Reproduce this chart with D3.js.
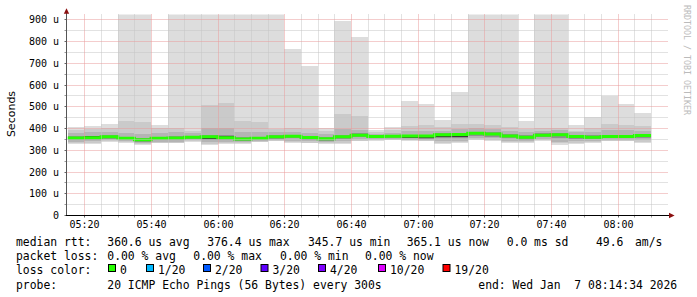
<!DOCTYPE html>
<html><head><meta charset="utf-8">
<script src="https://cdn.jsdelivr.net/npm/d3@7/dist/d3.min.js"></script>
<style>
html,body{margin:0;padding:0;background:#fff;}
svg{display:block;}
text{white-space:pre;}
</style></head><body>
<svg id="c" width="697" height="297"></svg>
<script>
// ---- data (5-minute bins, labelled by bin end time) ----
const binEnds = ["05:20","05:25","05:30","05:35","05:40","05:45","05:50","05:55","06:00","06:05",
  "06:10","06:15","06:20","06:25","06:30","06:35","06:40","06:45","06:50","06:55",
  "07:00","07:05","07:10","07:15","07:20","07:25","07:30","07:35","07:40","07:45",
  "07:50","07:55","08:00","08:05","08:10"];
// values in microseconds
const median = [354.2,355.5,359.3,352.5,345.7,352.5,354.2,357.6,359.3,355.1,350.0,352.5,360.2,361.9,355.9,350.8,359.3,367.0,361.1,361.9,
  362.8,362.8,368.7,370.4,376.4,372.1,363.6,357.6,367.0,368.7,361.1,357.6,361.1,361.1,365.1];
const ping20 = [405,410,419,990,990,414,990,990,990,990,990,990,990,764,687,400,894,820,393,404,
  524,511,437,566,990,990,990,434,990,990,414,449,549,511,471];
const ping19 = [392,396,400,432,426,399,399,385,505,515,434,428,396,399,396,385,465,456,381,390,
  411,414,403,420,419,414,405,394,400,400,388,400,419,412,409];
const ping17 = [376,380,381,378,372,378,380,376,398,402,380,382,381,384,378,372,395,392,372,377,
  385,388,388,395,398,394,388,380,388,390,380,381,392,390,388];
const ping14 = [362,365,366,361,354,360,363,365,368,366,359,361,368,370,364,359,370,375,367,369,
  370,370,376,378,384,380,372,366,375,376,369,366,369,370,373];
const ping11 = [357,364,362,355,348,355,357,360,362,362,353,355,363,365,358,353,362,370,363,364,
  365,365,371,373,379,375,366,360,370,371,363,363,363,363,367];
const ping10 = [351,353,356,349,341,349,351,354,351,353,346,349,357,358,353,347,356,364,356,358,
  355,356,358,360,373,368,360,354,364,366,358,354,358,358,362];
const ping07 = [346,347,350,344,336,343,345,349,344,346,340,345,351,352,346,341,349,357,352,354,
  352,351,352,353,365,361,353,347,358,356,351,348,352,352,355];
const ping04 = [338,339,344,339,330,337,338,343,334,338,334,341,345,341,339,335,339,348,348,350,
  347,346,340,342,355,352,342,340,350,338,340,340,346,346,344];
const ping02 = [331,332,339,335,325,333,333,339,326,331,330,338,341,336,333,330,331,342,344,347,
  344,342,331,334,348,345,334,336,345,329,331,334,341,342,337];
const ping01 = [327,327,336,333,321,330,330,336,321,327,327,336,339,333,330,327,327,339,342,345,
  342,339,327,330,345,342,330,333,342,324,327,330,339,339,333];

const yTickValues = [0,100,200,300,400,500,600,700,800,900];
const yTickLabels = ["0","100 u","200 u","300 u","400 u","500 u","600 u","700 u","800 u","900 u"];
const xTickLabels = ["05:20","05:40","06:00","06:20","06:40","07:00","07:20","07:40","08:00"];

const lossLabels = ["0","1/20","2/20","3/20","4/20","10/20","19/20"];
const lossColors = ["#26ff00","#00b8ff","#0059ff","#5e00ff","#7e00ff","#dd00ff","#ff0000"];

// ---- layout ----
const toMin = s => { const [h,m,sec] = s.split(":").map(Number); return h*60 + m + (sec||0)/60; };
const tStart = toMin("05:14:34"), tEnd = toMin("08:14:34");
const x = d3.scaleLinear().domain([tStart, tEnd]).range([66.3, 666.3]);
const y = d3.scaleLinear().domain([0, 900]).range([215, 19.3]);
const plotLeft = 66.5, plotRight = 668, plotTop = 14.5, plotBottom = 215;
const step = 5;

const svg = d3.select("#c");
svg.append("rect").attr("width",697).attr("height",297).attr("fill","#fff");
svg.append("defs").append("clipPath").attr("id","plot")
  .append("rect").attr("x",plotLeft).attr("y",plotTop)
  .attr("width",plotRight-plotLeft).attr("height",plotBottom-plotTop);

const g = svg.append("g").attr("clip-path","url(#plot)");

// smoke layers (outer to inner)
const layers = [
  [ping01, ping20, "#dddddd"],
  [ping02, ping19, "#cacaca"],
  [ping04, ping17, "#b4b4b4"],
  [ping07, ping14, "#909090"],
  [ping10, ping11, "#3a3a3a"]
];
layers.forEach(([lo, hi, col]) => {
  g.append("g").selectAll("rect").data(binEnds).join("rect")
    .attr("shape-rendering","crispEdges")
    .attr("x", (d) => Math.max(x(toMin(d)-step), plotLeft))
    .attr("width", (d) => x(toMin(d)) - Math.max(x(toMin(d)-step), plotLeft))
    .attr("y", (d,i) => y(hi[i]))
    .attr("height", (d,i) => y(lo[i]) - y(hi[i]))
    .attr("fill", col);
});

// grid
const grid = svg.append("g");
const hMinor = d3.range(50, 900, 100);
const hMajor = d3.range(100, 901, 100);
const vAll = d3.range(toMin("05:20"), toMin("08:10")+0.1, 5);
const isMajorT = m => Math.round(m) % 20 === 0;
const px = v => Math.round(v) + 0.5;
grid.selectAll(".hmin").data(hMinor).join("line")
  .attr("x1",plotLeft+1).attr("x2",plotRight).attr("y1",d=>px(y(d))).attr("y2",d=>px(y(d)))
  .attr("stroke","#c4c4c4").attr("stroke-dasharray","1,1");
grid.selectAll(".vmin").data(vAll.filter(m=>!isMajorT(m))).join("line")
  .attr("y1",plotTop).attr("y2",plotBottom).attr("x1",d=>px(x(d))).attr("x2",d=>px(x(d)))
  .attr("stroke","#c4c4c4").attr("stroke-dasharray","1,1");
grid.selectAll(".hmaj").data(hMajor).join("line")
  .attr("x1",plotLeft+1).attr("x2",plotRight).attr("y1",d=>px(y(d))).attr("y2",d=>px(y(d)))
  .attr("stroke","#e89a9a").attr("stroke-dasharray","1,1");
grid.selectAll(".vmaj").data(vAll.filter(isMajorT)).join("line")
  .attr("y1",plotTop).attr("y2",plotBottom).attr("x1",d=>px(x(d))).attr("x2",d=>px(x(d)))
  .attr("stroke","#e89a9a").attr("stroke-dasharray","1,1");

// median line (loss 0 colour)
const pts = binEnds.map((d,i) => [Math.max(x(toMin(d)-step), plotLeft), y(median[i])]);
pts.push([x(toMin(binEnds[binEnds.length-1])), y(median[median.length-1])]);
g.append("path").attr("d", d3.line().curve(d3.curveStepAfter)(pts))
  .attr("fill","none").attr("stroke",lossColors[0]).attr("stroke-width",3);

// axes
const yAxis = svg.append("g").attr("transform","translate(66.5,0)")
  .call(d3.axisLeft(y).tickValues(yTickValues).tickFormat((d,i)=>yTickLabels[i]).tickSize(2).tickPadding(5.5));
yAxis.select(".domain").remove();
yAxis.selectAll(".tick line").attr("stroke","#666");
yAxis.selectAll("text").attr("font-family","DejaVu Sans Mono").attr("font-size","10px").attr("fill","#000");
yAxis.selectAll(".tick").attr("transform", d => `translate(0,${px(y(d))})`);

const xAxis = svg.append("g").attr("transform","translate(0,215.5)")
  .call(d3.axisBottom(x).tickValues(xTickLabels.map(toMin)).tickFormat((d,i)=>xTickLabels[i]).tickSize(2).tickPadding(3.4));
xAxis.select(".domain").remove();
xAxis.selectAll(".tick line").attr("stroke","#666");
xAxis.selectAll("text").attr("font-family","DejaVu Sans Mono").attr("font-size","10px").attr("fill","#000");
xAxis.selectAll(".tick").attr("transform", d => `translate(${px(x(d))},0)`);

// minor ticks
svg.append("g").selectAll("line").data(vAll.filter(m=>!isMajorT(m))).join("line")
  .attr("x1",d=>px(x(d))).attr("x2",d=>px(x(d))).attr("y1",215.5).attr("y2",217.5).attr("stroke","#999");
svg.append("g").selectAll("line").data(hMinor).join("line")
  .attr("y1",d=>px(y(d))).attr("y2",d=>px(y(d))).attr("x1",64.5).attr("x2",66.5).attr("stroke","#999");

// axis lines and arrows
svg.append("line").attr("x1",66.5).attr("x2",66.5).attr("y1",plotBottom+0.5).attr("y2",13).attr("stroke","#555");
svg.append("line").attr("x1",66).attr("x2",669.5).attr("y1",215.5).attr("y2",215.5).attr("stroke","#000");
svg.append("path").attr("d","M63.8,13.8L69.2,13.8L66.5,8.2Z").attr("fill","#8b1010");
svg.append("path").attr("d","M669,212.8L669,218.2L674.6,215.5Z").attr("fill","#8b1010");

// titles
svg.append("text").attr("transform","translate(15,114) rotate(-90)").attr("text-anchor","middle")
  .attr("font-family","DejaVu Sans").attr("font-size","11px").attr("fill","#000").text("Seconds");
svg.append("text").attr("transform","translate(684,5) rotate(90)")
  .attr("font-family","DejaVu Sans Mono").attr("font-size","8.3px").attr("fill","#bbbbbb")
  .text("RRDTOOL / TOBI OETIKER");

// legend
const lf = {"font-family":"DejaVu Sans Mono","font-size":"11.4px","fill":"#000"};
function txt(xp, yp, s){ const t = svg.append("text").attr("x",xp).attr("y",yp).text(s); Object.entries(lf).forEach(([k,v])=>t.attr(k,v)); }
const rows = [245.5, 259.8, 274.2, 288.5];
[[16,"median rtt:"],[107.3,"360.6 us avg"],[207.3,"376.4 us max"],[308,"345.7 us min"],
 [406.7,"365.1 us now"],[506.7,"0.0 ms sd"],[596,"49.6"],[635,"am/s"]].forEach(([a,b])=>txt(a,rows[0],b));
[[16,"packet loss:"],[107.3,"0.00 % avg"],[193.3,"0.00 % max"],[280,"0.00 % min"],[365,"0.00 % now"]]
  .forEach(([a,b])=>txt(a,rows[1],b));
txt(16, rows[2], "loss color:");
const sqX = [108, 146, 203, 260.5, 318, 378, 442.5];
lossLabels.forEach((l,i)=>{
  svg.append("rect").attr("x",sqX[i]+0.5).attr("y",264.5).attr("width",7).attr("height",7)
    .attr("fill",lossColors[i]).attr("stroke","#000").attr("stroke-width",1);
  txt(sqX[i]+12, rows[2], l);
});
[[16,"probe:"],[107.3,"20 ICMP Echo Pings (56 Bytes) every 300s"],[478.3,"end: Wed Jan  7 08:14:34 2026"]]
  .forEach(([a,b])=>txt(a,rows[3],b));
</script>
</body></html>
